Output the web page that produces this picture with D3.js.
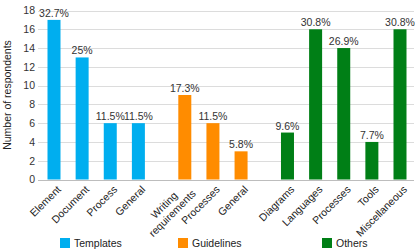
<!DOCTYPE html>
<html>
<head>
<meta charset="utf-8">
<script src="https://cdn.jsdelivr.net/npm/d3@7"></script>
<style>
  body { margin: 0; background: #fff; }
  svg { display: block; font-family: "Liberation Sans", Arial, sans-serif; }
</style>
</head>
<body>
<div id="chart"></div>
<script>
// chart data
const groups = ['Templates', 'Guidelines', 'Others'];
const groupColors = ['#00aeef', '#ff8c00', '#007f16'];
const categories = ['Element', 'Document', 'Process', 'General',
    'Writing\nrequirements', 'Processes', 'General',
    'Diagrams', 'Languages', 'Processes', 'Tools', 'Miscellaneous'];
const categoryGroup = [0, 0, 0, 0, 1, 1, 1, 2, 2, 2, 2, 2];
const counts = [17, 13, 6, 6, 9, 6, 3, 5, 16, 14, 4, 16];
const percents = ['32.7%', '25%', '11.5%', '11.5%', '17.3%', '11.5%', '5.8%',
    '9.6%', '30.8%', '26.9%', '7.7%', '30.8%'];
const yTicks = [0, 2, 4, 6, 8, 10, 12, 14, 16, 18];

const width = 416, height = 252;
const groupGap = 0.65; // extra slot space between groups

const data = categories.map((c, i) => ({
    label: c,
    group: categoryGroup[i],
    value: counts[i],
    pct: percents[i],
    slot: i + categoryGroup[i] * groupGap
}));

const xScale = d3.scaleLinear()
    .domain([0, d3.max(data, d => d.slot)])
    .range([54, 400]);

const yScale = d3.scaleLinear()
    .domain([0, 18])
    .range([179.5, 10.5]);

const barWidth = 13;

const svg = d3.select('#chart')
    .append('svg')
    .attr('width', width)
    .attr('height', height);

// gridlines
svg.append('g')
    .selectAll('line')
    .data(yTicks)
    .enter()
    .append('line')
    .attr('x1', 38)
    .attr('x2', 414)
    .attr('y1', d => Math.round(yScale(d)) + 0.5)
    .attr('y2', d => Math.round(yScale(d)) + 0.5)
    .attr('stroke', d => d === 0 ? '#bdbdbd' : '#dcdcdc')
    .attr('stroke-width', 1);

// y axis labels
const yAxis = d3.axisLeft(yScale)
    .tickValues(yTicks)
    .tickSize(0)
    .tickPadding(0);

svg.append('g')
    .attr('transform', 'translate(35,0)')
    .call(yAxis)
    .call(g => g.select('.domain').remove())
    .selectAll('text')
    .style('font-size', '10.5px')
    .style('fill', '#333')
    .style('font-family', '"Liberation Sans", Arial, sans-serif');

svg.append('text')
    .attr('transform', `translate(11,${yScale(9)}) rotate(-90)`)
    .attr('text-anchor', 'middle')
    .style('font-size', '10.5px')
    .style('fill', '#222')
    .text('Number of respondents');

// bars
svg.selectAll('.bar')
    .data(data)
    .enter()
    .append('rect')
    .attr('class', 'bar')
    .attr('x', d => xScale(d.slot) - barWidth / 2)
    .attr('y', d => yScale(d.value))
    .attr('width', barWidth)
    .attr('height', d => yScale(0) - yScale(d.value))
    .style('fill', d => groupColors[d.group]);

// percentage labels
svg.selectAll('.pct')
    .data(data)
    .enter()
    .append('text')
    .attr('class', 'pct')
    .attr('x', d => xScale(d.slot))
    .attr('y', d => yScale(d.value) - 3)
    .attr('text-anchor', 'middle')
    .style('font-size', '10.5px')
    .style('fill', '#333')
    .text(d => d.pct);

// category labels, rotated
const labels = svg.selectAll('.cat')
    .data(data)
    .enter()
    .append('text')
    .attr('class', 'cat')
    .attr('transform', d => `translate(${xScale(d.slot) + 5},${yScale(0) + 8}) rotate(-45)`)
    .style('font-size', '10.5px')
    .style('fill', '#222');

labels.each(function (d) {
    const lines = d.label.split('\n');
    const t = d3.select(this);
    // block of lines centred on the anchor
    const spans = lines.map((line, i) => t.append('tspan')
        .attr('x', 0)
        .attr('dy', i === 0 ? `${0.35 - (lines.length - 1) * 0.55}em` : '1.1em')
        .attr('text-anchor', 'end')
        .text(line));
    // center the lines on each other
    const widths = spans.map(s => s.node().getComputedTextLength());
    const maxW = d3.max(widths);
    spans.forEach((s, i) => s.attr('x', -(maxW - widths[i]) / 2));
});

// legend
const legendX = [60, 178, 322];
const legend = svg.selectAll('.legend')
    .data(groups)
    .enter()
    .append('g')
    .attr('class', 'legend')
    .attr('transform', (d, i) => `translate(${legendX[i]},238)`);

legend.append('rect')
    .attr('width', 10)
    .attr('height', 10)
    .style('fill', (d, i) => groupColors[i]);

legend.append('text')
    .attr('x', 14)
    .attr('y', 9)
    .style('font-size', '10.5px')
    .style('fill', '#222')
    .text(d => d);
</script>
</body>
</html>
